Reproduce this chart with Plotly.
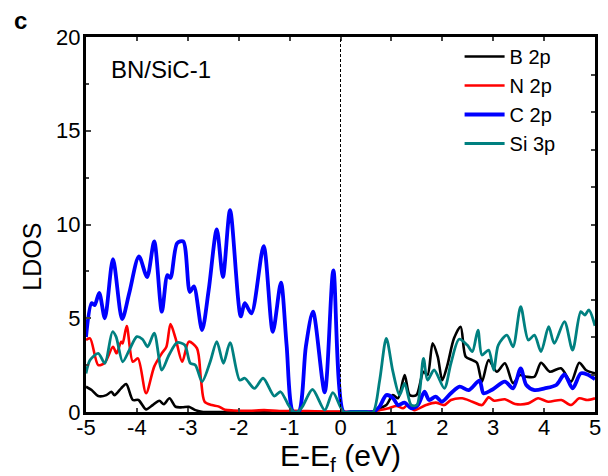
import plotly.graph_objects as go

# Energy relative to the Fermi level (eV) and projected LDOS for each orbital
E_B2p = [-5.0, -4.89, -4.76, -4.6, -4.5, -4.44, -4.31, -4.21, -4.08, -3.97, -3.82, -3.69,
         -3.56, -3.47, -3.36, -3.24, -3.11, -2.98, -2.85, -2.7, -2.4, -1.5, 0.0, 0.6,
         0.77, 0.9, 1.03, 1.13, 1.26, 1.36, 1.49, 1.63, 1.71, 1.81, 1.91, 2.0, 2.1,
         2.23, 2.36, 2.46, 2.59, 2.68, 2.78, 2.91, 3.07, 3.23, 3.39, 3.52, 3.65, 3.81,
         3.94, 4.11, 4.33, 4.53, 4.69, 4.82, 5.0]
LDOS_B2p = [1.35, 1.17, 0.85, 0.9, 1.08, 0.9, 1.26, 1.49, 0.64, 0.64, 0.14, 0.37,
            0.6, 0.41, 0.73, 0.28, 0.25, 0.28, 0.1, 0.0, 0.0, 0.0, 0.0, 0.0,
            0.2, 0.37, 0.9, 0.73, 1.97, 0.9, 0.9, 2.15, 1.97, 3.66, 2.95, 1.7, 2.5,
            3.93, 4.55, 2.95, 2.77, 2.63, 1.62, 2.77, 2.15, 2.6, 1.53, 1.97, 1.88, 1.88,
            2.63, 2.15, 2.33, 1.62, 2.63, 2.24, 2.06]

E_N2p = [-5.0, -4.92, -4.76, -4.63, -4.47, -4.4, -4.31, -4.28, -4.2, -4.08, -3.98, -3.82,
         -3.66, -3.51, -3.42, -3.34, -3.24, -3.11, -2.98, -2.82, -2.74, -2.67, -2.53,
         -2.4, -2.27, -2.1, -1.8, -1.5, -1.2, -0.9, -0.5, 0.0, 0.6, 0.77, 0.95, 1.1,
         1.23, 1.32, 1.45, 1.68, 1.87, 2.04, 2.17, 2.39, 2.59, 2.78, 2.91, 3.02, 3.23,
         3.43, 3.69, 3.88, 4.08, 4.34, 4.53, 4.69, 4.85, 5.0]
LDOS_N2p = [3.84, 3.93, 2.5, 2.63, 3.48, 3.13, 3.75, 3.66, 4.58, 2.68, 2.86, 1.0,
            2.42, 3.13, 3.48, 4.69, 3.93, 2.68, 3.75, 3.4, 1.7, 0.55, 0.37,
            0.3, 0.12, 0.08, 0.06, 0.1, 0.05, 0.06, 0.04, 0.02, 0.02, 0.1, 0.2, 0.32,
            0.2, 0.37, 0.1, 0.37, 0.5, 0.37, 0.64, 0.73, 0.55, 0.37, 0.78, 0.6, 0.68,
            0.43, 0.46, 0.73, 0.55, 0.64, 0.37, 0.73, 0.64, 0.73]

E_C2p = [-5.0, -4.89, -4.83, -4.74, -4.63, -4.47, -4.29, -4.15, -3.96, -3.8, -3.66, -3.51,
         -3.4, -3.34, -3.21, -3.09, -2.96, -2.88, -2.72, -2.59, -2.43, -2.31, -2.17,
         -1.96, -1.88, -1.75, -1.51, -1.33, -1.17, -1.06, -0.93, -0.82, -0.68, -0.54,
         -0.31, -0.14, 0.06, 0.2, 0.5, 0.64, 0.77, 0.9, 1.03, 1.13, 1.26, 1.39, 1.52,
         1.65, 1.74, 1.87, 1.99, 2.17, 2.34, 2.52, 2.73, 2.81, 2.97, 3.23, 3.39, 3.54,
         3.65, 3.81, 4.01, 4.24, 4.4, 4.56, 4.72, 4.85, 5.0]
LDOS_C2p = [4.0, 5.8, 5.7, 6.35, 5.0, 8.15, 4.95, 6.35, 8.3, 7.2, 9.1, 5.35,
            7.3, 7.15, 9.0, 9.1, 6.4, 6.7, 4.37, 6.5, 9.74, 7.2, 10.77,
            5.1, 5.8, 5.26, 8.85, 4.28, 6.9, 3.6, 0.0, 0.0, 3.5, 5.35,
            1.05, 7.55, 0.0, 0.0, 0.0, 0.0, 0.3, 0.9, 0.75, 0.37, 0.5, 0.2, 0.37,
            1.08, 0.64, 0.82, 0.55, 1.0, 1.35, 1.17, 1.67, 1.0, 1.17, 1.62, 1.26, 2.33,
            1.44, 1.17, 1.26, 1.44, 2.0, 1.26, 2.06, 2.0, 1.75]

E_Si3p = [-5.0, -4.92, -4.76, -4.63, -4.48, -4.41, -4.28, -4.15, -4.0, -3.89, -3.79, -3.66,
          -3.51, -3.37, -3.21, -3.06, -2.95, -2.85, -2.72, -2.56, -2.43, -2.3, -2.17,
          -1.98, -1.88, -1.69, -1.52, -1.3, -1.18, -1.04, -0.94, -0.85, -0.75, -0.55,
          -0.31, -0.15, 0.06, 0.2, 0.5, 0.64, 0.77, 0.9, 1.03, 1.16, 1.26, 1.39, 1.5,
          1.63, 1.71, 1.84, 2.04, 2.17, 2.33, 2.49, 2.59, 2.7, 2.78, 2.91, 3.01, 3.1,
          3.27, 3.39, 3.54, 3.69, 3.81, 3.94, 4.09, 4.2, 4.4, 4.56, 4.72, 4.8, 4.88, 5.0]
LDOS_Si3p = [2.06, 2.77, 3.13, 2.6, 4.28, 4.02, 2.68, 3.3, 4.02, 3.88, 3.48, 4.2,
             2.24, 3.04, 3.7, 3.57, 2.6, 2.5, 1.62, 2.68, 3.75, 2.6, 3.7,
             1.7, 1.8, 1.26, 1.8, 0.85, 1.08, 0.46, 0.05, 0.0, 0.28, 1.2,
             0.1, 1.03, 0.0, 0.0, 0.0, 0.0, 1.7, 3.93, 2.15, 0.9, 1.53, 0.37, 0.37,
             2.86, 1.7, 2.24, 1.26, 2.6, 3.88, 3.57, 3.22, 4.37, 3.04, 3.3, 2.24, 3.57,
             4.1, 3.48, 5.62, 3.84, 4.1, 3.22, 4.55, 3.66, 4.82, 3.3, 5.35, 5.17, 5.44, 4.6]

# Energy axis ticks, labelled with a plain hyphen as the minus sign
X_TICKS = [-5, -4, -3, -2, -1, 0, 1, 2, 3, 4, 5]
X_TICK_LABELS = ["-5", "-4", "-3", "-2", "-1", "0", "1", "2", "3", "4", "5"]

# name, energies, LDOS, colour, line width, y axis
series = [
    ("B 2p", E_B2p, LDOS_B2p, "#000000", 2.6, "y"),
    ("N 2p", E_N2p, LDOS_N2p, "#ff0000", 2.6, "y"),
    ("C 2p", E_C2p, LDOS_C2p, "#0000ff", 3.8, "y"),
    ("Si 3p", E_Si3p, LDOS_Si3p, "#008080", 2.8, "y2"),
]

FONT = "Liberation Sans, Arial, sans-serif"
L, R, T, B = 86, 7, 37, 64
PW, PH = 608 - L - R, 476 - T - B


def px_x(px):
    return (px - L) / PW


def px_y(py):
    return 1 - (py - T) / PH


fig = go.Figure()
for name, e, d, color, width, yax in series:
    fig.add_trace(go.Scatter(
        x=e, y=d, mode="lines", name=name, legendgroup=name, yaxis=yax,
        line=dict(color=color, width=width, shape="spline", smoothing=0.8),
    ))

# Fermi level marker
fig.add_shape(type="line", xref="x", yref="paper", x0=0, x1=0, y0=0, y1=1,
              line=dict(color="black", width=1, dash="3px,2px"))

fig.update_layout(
    width=608, height=476,
    margin=dict(l=L, r=R, t=T, b=B),
    paper_bgcolor="white", plot_bgcolor="white",
    font=dict(family=FONT, color="black", size=20),
    showlegend=True,
    legend=dict(
        x=px_x(464), y=px_y(37), xanchor="left", yanchor="top",
        font=dict(size=20, family=FONT), bgcolor="rgba(0,0,0,0)",
        tracegroupgap=0, itemwidth=40,
    ),
    xaxis=dict(
        range=[-5, 5], tickmode="array", tickvals=X_TICKS, ticktext=X_TICK_LABELS,
        ticks="inside", ticklen=4, tickwidth=1.5, mirror="ticks",
        showline=True, linewidth=3, linecolor="black", showgrid=False, zeroline=False,
        tickfont=dict(size=22), ticklabelstandoff=-6,
        title=dict(text="E-E<sub>f</sub> (eV)", font=dict(size=30), standoff=0),
    ),
    yaxis=dict(
        range=[0, 20], dtick=5, ticks="inside", ticklen=5, tickwidth=1.5,
        minor=dict(dtick=2.5, ticks="inside", ticklen=3, tickwidth=1.5),
        showline=True, linewidth=3, linecolor="black", showgrid=False, zeroline=False,
        tickfont=dict(size=22), ticklabelstandoff=-2,
    ),
    yaxis2=dict(
        range=[0, 20], dtick=2, ticks="inside", ticklen=4, tickwidth=1.5,
        overlaying="y", side="right", anchor="x", showticklabels=False,
        showline=True, linewidth=3, linecolor="black", showgrid=False, zeroline=False,
    ),
)

fig.add_annotation(text="LDOS", xref="paper", yref="paper", textangle=-90,
                   x=px_x(31), y=px_y(257), xanchor="center", yanchor="middle",
                   showarrow=False, font=dict(size=25, family=FONT))
fig.add_annotation(text="BN/SiC-1", xref="paper", yref="paper",
                   x=px_x(109), y=px_y(70), xanchor="left", yanchor="middle",
                   showarrow=False, font=dict(size=24, family=FONT))
fig.add_annotation(text="<b>c</b>", xref="paper", yref="paper",
                   x=px_x(11), y=px_y(20), xanchor="left", yanchor="middle",
                   showarrow=False, font=dict(size=24, family=FONT))

fig.write_html("out.html")
